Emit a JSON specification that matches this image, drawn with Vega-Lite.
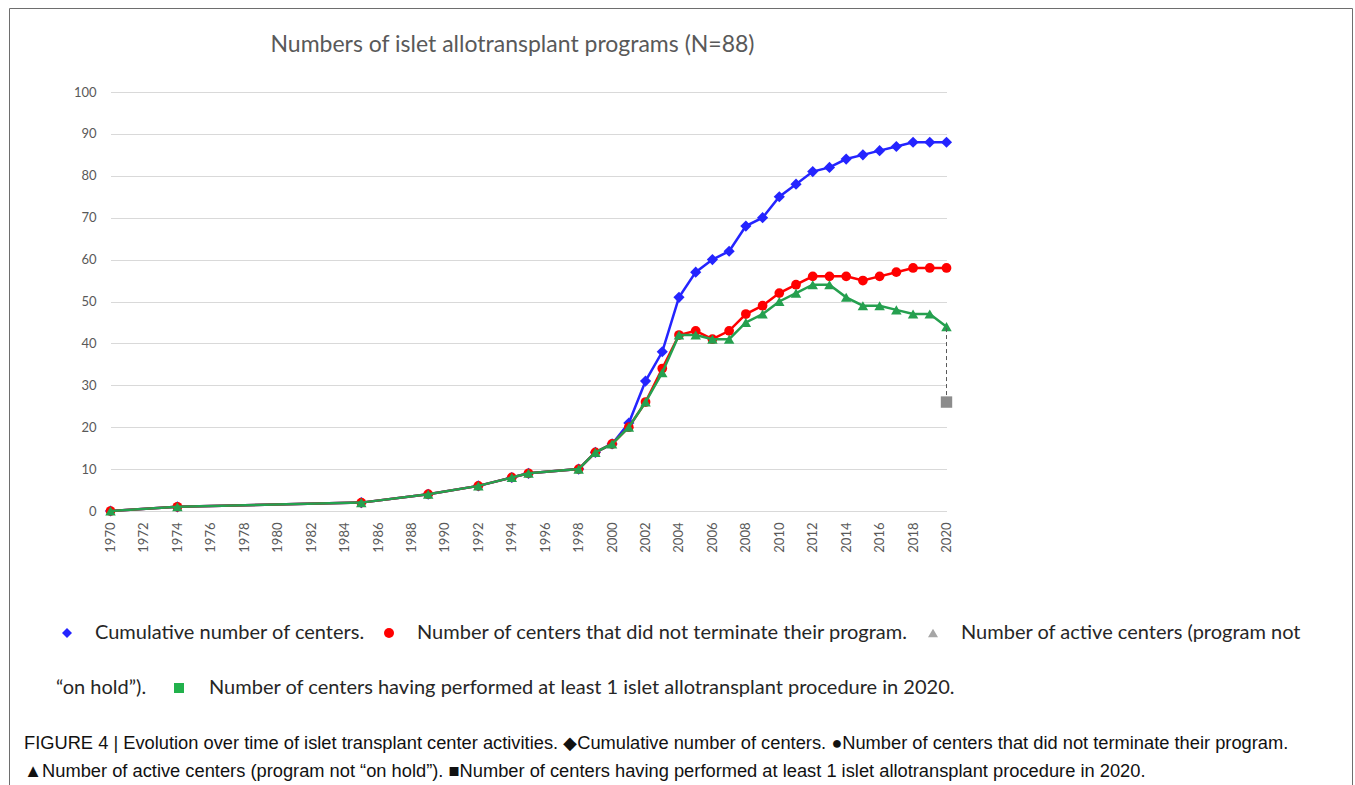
{
  "$schema": "https://vega.github.io/schema/vega-lite/v6.json",
  "autosize": "none",
  "width": 1343,
  "height": 777,
  "padding": {"left": 9, "top": 8, "right": 3, "bottom": 0},
  "background": "white",
  "config": {
    "view": {"stroke": "#6e6e6e", "strokeWidth": 1},
    "legend": {"padding": 0}
  },
  "title": {
    "text": [
      "FIGURE 4 | Evolution over time of islet transplant center activities. ◆Cumulative number of centers. ●Number of centers that did not terminate their program.",
      "▲Number of active centers (program not “on hold”). ■Number of centers having performed at least 1 islet allotransplant procedure in 2020."
    ],
    "orient": "bottom",
    "anchor": "start",
    "frame": "group",
    "offset": -50,
    "dx": 15,
    "font": "Liberation Sans, Arial, sans-serif",
    "fontSize": 18.3,
    "fontWeight": "normal",
    "color": "#111111",
    "lineHeight": 28
  },
  "datasets": {
    "series": [
      {"year": 1970, "value": 0, "series": "Cumulative number of centers."},
      {"year": 1974, "value": 1, "series": "Cumulative number of centers."},
      {"year": 1985, "value": 2, "series": "Cumulative number of centers."},
      {"year": 1989, "value": 4, "series": "Cumulative number of centers."},
      {"year": 1992, "value": 6, "series": "Cumulative number of centers."},
      {"year": 1994, "value": 8, "series": "Cumulative number of centers."},
      {"year": 1995, "value": 9, "series": "Cumulative number of centers."},
      {"year": 1998, "value": 10, "series": "Cumulative number of centers."},
      {"year": 1999, "value": 14, "series": "Cumulative number of centers."},
      {"year": 2000, "value": 16, "series": "Cumulative number of centers."},
      {"year": 2001, "value": 21, "series": "Cumulative number of centers."},
      {"year": 2002, "value": 31, "series": "Cumulative number of centers."},
      {"year": 2003, "value": 38, "series": "Cumulative number of centers."},
      {"year": 2004, "value": 51, "series": "Cumulative number of centers."},
      {"year": 2005, "value": 57, "series": "Cumulative number of centers."},
      {"year": 2006, "value": 60, "series": "Cumulative number of centers."},
      {"year": 2007, "value": 62, "series": "Cumulative number of centers."},
      {"year": 2008, "value": 68, "series": "Cumulative number of centers."},
      {"year": 2009, "value": 70, "series": "Cumulative number of centers."},
      {"year": 2010, "value": 75, "series": "Cumulative number of centers."},
      {"year": 2011, "value": 78, "series": "Cumulative number of centers."},
      {"year": 2012, "value": 81, "series": "Cumulative number of centers."},
      {"year": 2013, "value": 82, "series": "Cumulative number of centers."},
      {"year": 2014, "value": 84, "series": "Cumulative number of centers."},
      {"year": 2015, "value": 85, "series": "Cumulative number of centers."},
      {"year": 2016, "value": 86, "series": "Cumulative number of centers."},
      {"year": 2017, "value": 87, "series": "Cumulative number of centers."},
      {"year": 2018, "value": 88, "series": "Cumulative number of centers."},
      {"year": 2019, "value": 88, "series": "Cumulative number of centers."},
      {"year": 2020, "value": 88, "series": "Cumulative number of centers."},
      {"year": 1970, "value": 0, "series": "Number of centers that did not terminate their program."},
      {"year": 1974, "value": 1, "series": "Number of centers that did not terminate their program."},
      {"year": 1985, "value": 2, "series": "Number of centers that did not terminate their program."},
      {"year": 1989, "value": 4, "series": "Number of centers that did not terminate their program."},
      {"year": 1992, "value": 6, "series": "Number of centers that did not terminate their program."},
      {"year": 1994, "value": 8, "series": "Number of centers that did not terminate their program."},
      {"year": 1995, "value": 9, "series": "Number of centers that did not terminate their program."},
      {"year": 1998, "value": 10, "series": "Number of centers that did not terminate their program."},
      {"year": 1999, "value": 14, "series": "Number of centers that did not terminate their program."},
      {"year": 2000, "value": 16, "series": "Number of centers that did not terminate their program."},
      {"year": 2001, "value": 20, "series": "Number of centers that did not terminate their program."},
      {"year": 2002, "value": 26, "series": "Number of centers that did not terminate their program."},
      {"year": 2003, "value": 34, "series": "Number of centers that did not terminate their program."},
      {"year": 2004, "value": 42, "series": "Number of centers that did not terminate their program."},
      {"year": 2005, "value": 43, "series": "Number of centers that did not terminate their program."},
      {"year": 2006, "value": 41, "series": "Number of centers that did not terminate their program."},
      {"year": 2007, "value": 43, "series": "Number of centers that did not terminate their program."},
      {"year": 2008, "value": 47, "series": "Number of centers that did not terminate their program."},
      {"year": 2009, "value": 49, "series": "Number of centers that did not terminate their program."},
      {"year": 2010, "value": 52, "series": "Number of centers that did not terminate their program."},
      {"year": 2011, "value": 54, "series": "Number of centers that did not terminate their program."},
      {"year": 2012, "value": 56, "series": "Number of centers that did not terminate their program."},
      {"year": 2013, "value": 56, "series": "Number of centers that did not terminate their program."},
      {"year": 2014, "value": 56, "series": "Number of centers that did not terminate their program."},
      {"year": 2015, "value": 55, "series": "Number of centers that did not terminate their program."},
      {"year": 2016, "value": 56, "series": "Number of centers that did not terminate their program."},
      {"year": 2017, "value": 57, "series": "Number of centers that did not terminate their program."},
      {"year": 2018, "value": 58, "series": "Number of centers that did not terminate their program."},
      {"year": 2019, "value": 58, "series": "Number of centers that did not terminate their program."},
      {"year": 2020, "value": 58, "series": "Number of centers that did not terminate their program."},
      {"year": 1970, "value": 0, "series": "Number of active centers (program not “on hold”)."},
      {"year": 1974, "value": 1, "series": "Number of active centers (program not “on hold”)."},
      {"year": 1985, "value": 2, "series": "Number of active centers (program not “on hold”)."},
      {"year": 1989, "value": 4, "series": "Number of active centers (program not “on hold”)."},
      {"year": 1992, "value": 6, "series": "Number of active centers (program not “on hold”)."},
      {"year": 1994, "value": 8, "series": "Number of active centers (program not “on hold”)."},
      {"year": 1995, "value": 9, "series": "Number of active centers (program not “on hold”)."},
      {"year": 1998, "value": 10, "series": "Number of active centers (program not “on hold”)."},
      {"year": 1999, "value": 14, "series": "Number of active centers (program not “on hold”)."},
      {"year": 2000, "value": 16, "series": "Number of active centers (program not “on hold”)."},
      {"year": 2001, "value": 20, "series": "Number of active centers (program not “on hold”)."},
      {"year": 2002, "value": 26, "series": "Number of active centers (program not “on hold”)."},
      {"year": 2003, "value": 33, "series": "Number of active centers (program not “on hold”)."},
      {"year": 2004, "value": 42, "series": "Number of active centers (program not “on hold”)."},
      {"year": 2005, "value": 42, "series": "Number of active centers (program not “on hold”)."},
      {"year": 2006, "value": 41, "series": "Number of active centers (program not “on hold”)."},
      {"year": 2007, "value": 41, "series": "Number of active centers (program not “on hold”)."},
      {"year": 2008, "value": 45, "series": "Number of active centers (program not “on hold”)."},
      {"year": 2009, "value": 47, "series": "Number of active centers (program not “on hold”)."},
      {"year": 2010, "value": 50, "series": "Number of active centers (program not “on hold”)."},
      {"year": 2011, "value": 52, "series": "Number of active centers (program not “on hold”)."},
      {"year": 2012, "value": 54, "series": "Number of active centers (program not “on hold”)."},
      {"year": 2013, "value": 54, "series": "Number of active centers (program not “on hold”)."},
      {"year": 2014, "value": 51, "series": "Number of active centers (program not “on hold”)."},
      {"year": 2015, "value": 49, "series": "Number of active centers (program not “on hold”)."},
      {"year": 2016, "value": 49, "series": "Number of active centers (program not “on hold”)."},
      {"year": 2017, "value": 48, "series": "Number of active centers (program not “on hold”)."},
      {"year": 2018, "value": 47, "series": "Number of active centers (program not “on hold”)."},
      {"year": 2019, "value": 47, "series": "Number of active centers (program not “on hold”)."},
      {"year": 2020, "value": 44, "series": "Number of active centers (program not “on hold”)."}
    ],
    "performed": [
      {"year": 2020, "value": 26, "active": 44, "label": "Number of centers having performed at least 1 islet allotransplant procedure in 2020."}
    ]
  },
  "encoding": {
    "x": {
      "field": "year",
      "type": "quantitative",
      "scale": {"domain": [1970, 2020], "range": [101.5, 937.5], "nice": false, "zero": false},
      "axis": {
        "values": [1970, 1972, 1974, 1976, 1978, 1980, 1982, 1984, 1986, 1988, 1990, 1992, 1994, 1996, 1998, 2000, 2002, 2004, 2006, 2008, 2010, 2012, 2014, 2016, 2018, 2020],
        "format": "d",
        "labelAngle": 270,
        "labelPadding": 11,
        "labelFont": "Lato",
        "labelFontSize": 13,
        "labelColor": "#595959",
        "labelFlush": false,
        "labelOverlap": false,
        "labelBound": false,
        "domain": false,
        "ticks": false,
        "tickSize": 0,
        "grid": false,
        "title": null,
        "offset": -274
      }
    },
    "y": {
      "field": "value",
      "type": "quantitative",
      "scale": {"domain": [0, 100], "range": [503, 84], "nice": false},
      "axis": {
        "values": [0, 10, 20, 30, 40, 50, 60, 70, 80, 90, 100],
        "labelFont": "Lato",
        "labelFontSize": 13,
        "labelColor": "#595959",
        "labelPadding": 4,
        "domain": false,
        "ticks": false,
        "tickSize": 0,
        "grid": true,
        "gridColor": "#d9d9d9",
        "gridWidth": 1,
        "offset": -91,
        "title": "Numbers of islet allotransplant programs (N=88)",
        "titleAngle": 0,
        "titleX": 412,
        "titleY": 43,
        "titleAlign": "center",
        "titleBaseline": "alphabetic",
        "titleFont": "Lato",
        "titleFontSize": 23,
        "titleFontWeight": "normal",
        "titleColor": "#595959"
      }
    }
  },
  "layer": [
    {
      "data": {"name": "series"},
      "transform": [{"filter": {"field": "series", "equal": "Cumulative number of centers."}}],
      "mark": {"type": "line", "strokeWidth": 2.5},
      "encoding": {
        "color": {"field": "series", "type": "nominal"}
      }
    },
    {
      "data": {"name": "series"},
      "transform": [{"filter": {"field": "series", "equal": "Cumulative number of centers."}}],
      "mark": {"type": "point", "filled": true, "opacity": 1, "size": 125},
      "encoding": {
        "color": {
          "field": "series",
          "type": "nominal",
          "scale": {
            "domain": ["Cumulative number of centers.", "Number of centers that did not terminate their program.", "Number of active centers (program not “on hold”).", "Number of centers having performed at least 1 islet allotransplant procedure in 2020."],
            "range": ["#2424ff", "#ff0000", "#a6a6a6", "#22b14c"]
          },
          "legend": {
            "orient": "none",
            "legendX": 48,
            "legendY": 615,
            "direction": "horizontal",
            "title": null,
            "values": ["Cumulative number of centers.", "Number of centers that did not terminate their program.", "Number of active centers (program not “on hold”)."],
            "labelExpr": "indexof(datum.label, 'active') >= 0 ? 'Number of active centers (program not' : datum.label",
            "labelFont": "Lato",
            "labelFontSize": 20,
            "labelColor": "#262626",
            "labelLimit": 1000,
            "labelOffset": 18,
            "columnPadding": 14,
            "symbolSize": 100,
            "symbolStrokeWidth": 0
          }
        },
        "shape": {
          "field": "series",
          "type": "nominal",
          "scale": {
            "domain": ["Cumulative number of centers.", "Number of centers that did not terminate their program.", "Number of active centers (program not “on hold”).", "Number of centers having performed at least 1 islet allotransplant procedure in 2020."],
            "range": ["diamond", "circle", "triangle-up", "square"]
          },
          "legend": {
            "orient": "none",
            "legendX": 48,
            "legendY": 615,
            "direction": "horizontal",
            "title": null,
            "values": ["Cumulative number of centers.", "Number of centers that did not terminate their program.", "Number of active centers (program not “on hold”)."],
            "labelExpr": "indexof(datum.label, 'active') >= 0 ? 'Number of active centers (program not' : datum.label",
            "labelFont": "Lato",
            "labelFontSize": 20,
            "labelColor": "#262626",
            "labelLimit": 1000,
            "labelOffset": 18,
            "columnPadding": 14,
            "symbolSize": 100,
            "symbolStrokeWidth": 0
          }
        }
      }
    },
    {
      "data": {"name": "series"},
      "transform": [{"filter": {"field": "series", "equal": "Number of centers that did not terminate their program."}}],
      "mark": {"type": "line", "strokeWidth": 2.5},
      "encoding": {
        "color": {"field": "series", "type": "nominal"}
      }
    },
    {
      "data": {"name": "series"},
      "transform": [{"filter": {"field": "series", "equal": "Number of centers that did not terminate their program."}}],
      "mark": {"type": "point", "filled": true, "opacity": 1, "size": 95},
      "encoding": {
        "color": {"field": "series", "type": "nominal"},
        "shape": {"field": "series", "type": "nominal"}
      }
    },
    {
      "data": {"name": "series"},
      "transform": [{"filter": {"field": "series", "equal": "Number of active centers (program not “on hold”)."}}],
      "mark": {"type": "line", "strokeWidth": 2.5, "color": "#25a04f"}
    },
    {
      "data": {"name": "series"},
      "transform": [{"filter": {"field": "series", "equal": "Number of active centers (program not “on hold”)."}}],
      "mark": {"type": "point", "filled": true, "opacity": 1, "size": 110, "shape": "triangle-up", "color": "#25a04f"}
    },
    {
      "data": {"name": "performed"},
      "mark": {"type": "rule", "color": "#595959", "strokeWidth": 1, "strokeDash": [4, 3]},
      "encoding": {
        "y2": {"field": "active"}
      }
    },
    {
      "data": {"name": "performed"},
      "mark": {"type": "point", "filled": true, "shape": "square", "size": 60, "color": "#22b14c"},
      "encoding": {
        "opacity": {
          "field": "label",
          "type": "nominal",
          "scale": {"type": "ordinal", "range": [1]},
          "legend": {
            "orient": "none",
            "legendX": 47,
            "legendY": 670,
            "direction": "horizontal",
            "title": "“on hold”).",
            "titleOrient": "left",
            "titleFont": "Lato",
            "titleFontSize": 20,
            "titleFontWeight": "normal",
            "titleColor": "#262626",
            "titlePadding": 22,
            "labelFont": "Lato",
            "labelFontSize": 20,
            "labelColor": "#262626",
            "labelLimit": 1000,
            "labelOffset": 20,
            "symbolType": "square",
            "symbolSize": 100,
            "symbolOpacity": 1,
            "symbolStrokeWidth": 0
          }
        }
      }
    },
    {
      "data": {"name": "performed"},
      "mark": {"type": "point", "filled": true, "shape": "square", "size": 130, "color": "#8c8c8c", "opacity": 1}
    }
  ]
}
